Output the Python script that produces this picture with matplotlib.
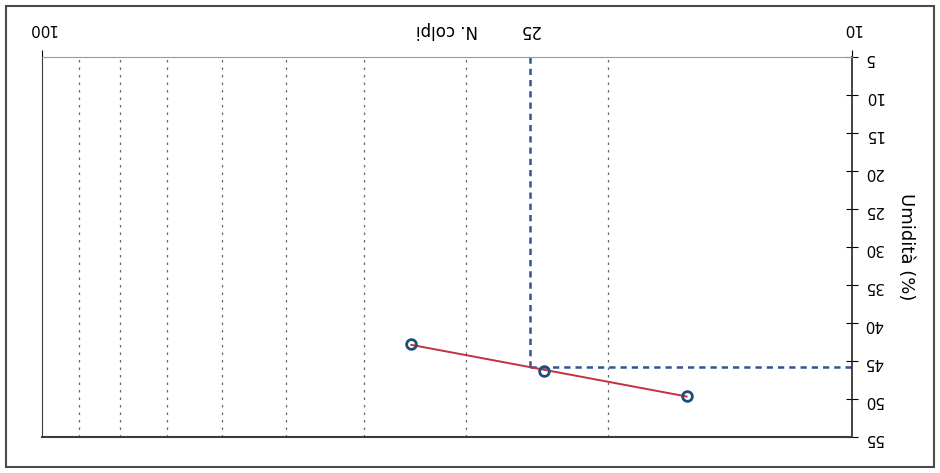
import numpy as np
import matplotlib
matplotlib.use('Agg')
import matplotlib.pyplot as plt
import matplotlib.transforms as mtransforms
from matplotlib.patches import Rectangle

# dati della prova (limite liquido, cucchiaio di Casagrande)
n_colpi = [35, 24, 16]
umidita = [42.8, 46.3, 49.6]
n_rif = 25
y_ticks = list(range(5, 60, 5))

# retta di regressione w = a + b*log10(N)
b, a = np.polyfit(np.log10(n_colpi), umidita, 1)
n_fit = np.array([min(n_colpi), max(n_colpi)])
w_fit = a + b * np.log10(n_fit)
w_rif = a + b * np.log10(n_rif)

fig = plt.figure(figsize=(9.4, 4.73), dpi=100)
ax = fig.add_axes([42 / 940, 1 - 437 / 473, 810 / 940, 380 / 473])

# il grafico della scansione e' capovolto: assi invertiti e testo ruotato di 180
ax.set_xscale('log')
ax.set_xlim(100, 10)
ax.set_ylim(55, 5)

ax.plot(n_fit, w_fit, color='#c62f3f', lw=1.4, zorder=3)
ax.plot(n_colpi, umidita, 'o', ms=7, mfc='none', mec='#1f4e79', mew=2, zorder=4)

ax.plot([n_rif, n_rif], [5, w_rif], color='#2f5597', lw=1.8, ls=(0, (2.5, 2)), zorder=2)
ax.plot([n_rif, 10], [w_rif, w_rif], color='#2f5597', lw=1.8, ls=(0, (2.5, 2)), zorder=2)

ax.xaxis.tick_top()
ax.set_xticks([10, 100])
ax.set_xticklabels(['10', '100'])
ax.xaxis.set_minor_locator(matplotlib.ticker.LogLocator(subs=np.arange(2, 10)))
ax.xaxis.set_minor_formatter(matplotlib.ticker.NullFormatter())
ax.tick_params(axis='x', which='major', direction='out', length=5, labelrotation=180,
               labelsize=11, pad=10)
ax.tick_params(axis='x', which='minor', length=0)
ax.grid(True, axis='x', which='minor', color='#666666', lw=0.9, ls=(0, (2, 4)))

ax.yaxis.tick_right()
ax.set_yticks(y_ticks)
ax.tick_params(axis='y', direction='inout', length=9, labelrotation=180, labelsize=11, pad=4)
ax.yaxis.set_label_position('right')
ax.set_ylabel('Umidità (%)', rotation=-90, fontsize=13, labelpad=10, va='bottom')

trans = mtransforms.blended_transform_factory(ax.transData, ax.transAxes)
ax.text(n_rif, 1.07, '25', transform=trans, rotation=180, ha='center', va='center', fontsize=12)
ax.text(0.5, 1.07, 'N. colpi', transform=ax.transAxes, rotation=180,
        ha='center', va='center', fontsize=12)

ax.spines['top'].set_color('#9a9a9a')
ax.spines['left'].set_color('#3a3a3a')
ax.spines['bottom'].set_color('#3a3a3a')
ax.spines['bottom'].set_linewidth(1.5)
ax.spines['right'].set_color('#222222')
ax.spines['right'].set_linewidth(1.2)

fig.patches.append(Rectangle((6 / 940, 6 / 473), 928 / 940, 461 / 473, transform=fig.transFigure,
                             fill=False, ec='#4a4a4a', lw=1.5))

fig.savefig('out.png', dpi=100)
